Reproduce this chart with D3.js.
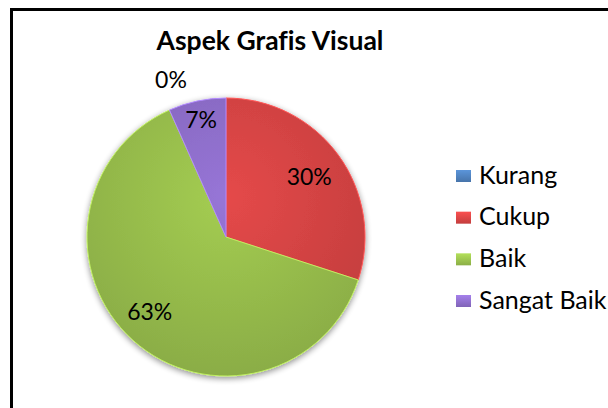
<!DOCTYPE html>
<html>
<head>
<meta charset="utf-8">
<script src="https://cdn.jsdelivr.net/npm/d3@7"></script>
<style>
	html, body { margin: 0; padding: 0; background: #fff; overflow: hidden; }
	svg { display: block; }
	text { font-family: Lato, "Open Sans", sans-serif; fill: #000; font-variant-ligatures: none; }
</style>
</head>
<body>
<div id="chart"></div>
<script>
// data
const categories = ['Kurang', 'Cukup', 'Baik', 'Sangat Baik'];
const counts = [0, 9, 19, 2];
const colors = ['#4f81bd', '#d94545', '#9bc24e', '#8f6fcc'];
const title = 'Aspek Grafis Visual';

const width = 608;
const height = 408;

const svg = d3.select('#chart')
	.append('svg')
	.attr('width', width)
	.attr('height', height);

svg.append('rect')
	.attr('width', width)
	.attr('height', height)
	.attr('fill', '#fff');

// frame: only the left and top edges are inside the picture
svg.append('path')
	.attr('d', `M11.5,${height} V9.5 H${width}`)
	.attr('fill', 'none')
	.attr('stroke', '#000')
	.attr('stroke-width', 3);

const defs = svg.append('defs');

// soft shadow
const shadow = defs.append('filter')
	.attr('id', 'shadow')
	.attr('x', '-20%').attr('y', '-20%')
	.attr('width', '140%').attr('height', '140%');
shadow.append('feGaussianBlur').attr('in', 'SourceAlpha').attr('stdDeviation', 3);
shadow.append('feOffset').attr('dx', 0).attr('dy', 2).attr('result', 'blur');
shadow.append('feComponentTransfer').append('feFuncA').attr('type', 'linear').attr('slope', 0.45);
const merge = shadow.append('feMerge');
merge.append('feMergeNode');
merge.append('feMergeNode').attr('in', 'SourceGraphic');

// shaded slice fills
colors.forEach((c, i) => {
	const g = defs.append('radialGradient')
		.attr('id', 'grad' + i)
		.attr('gradientUnits', 'userSpaceOnUse')
		.attr('cx', 0).attr('cy', -40)
		.attr('r', 190);
	g.append('stop').attr('offset', '0%').attr('stop-color', d3.color(c).brighter(0.15));
	g.append('stop').attr('offset', '100%').attr('stop-color', d3.color(c).darker(0.35));

	const lg = defs.append('linearGradient')
		.attr('id', 'legend' + i)
		.attr('x1', 0).attr('y1', 0).attr('x2', 0).attr('y2', 1);
	lg.append('stop').attr('offset', '0%').attr('stop-color', d3.color(c).brighter(0.4));
	lg.append('stop').attr('offset', '100%').attr('stop-color', d3.color(c).darker(0.3));
});

// title
svg.append('text')
	.attr('x', 270)
	.attr('y', 50)
	.attr('text-anchor', 'middle')
	.style('font-size', '26.5px')
	.style('font-weight', 'bold')
	.text(title);

const cx = 226, cy = 237, radius = 139;

const pie = d3.pie()
	.value(d => d)
	.sort(null);

const arcs = pie(counts);
const total = d3.sum(counts);

const arc = d3.arc()
	.innerRadius(0)
	.outerRadius(radius);

const g = svg.append('g')
	.attr('transform', `translate(${cx},${cy})`);

g.append('g')
	.attr('filter', 'url(#shadow)')
	.selectAll('path')
	.data(arcs)
	.enter()
	.append('path')
	.attr('d', arc)
	.attr('fill', (d, i) => `url(#grad${i})`)
	.attr('stroke', (d, i) => d3.color(colors[i]).brighter(0.6))
	.attr('stroke-width', 1);

// data labels
const fmt = d3.format('.0%');
g.selectAll('text.lbl')
	.data(arcs)
	.enter()
	.append('text')
	.attr('class', 'lbl')
	.attr('text-anchor', 'middle')
	.attr('dy', '0.35em')
	.style('font-size', '23px')
	.attr('transform', (d, i) => {
		const share = d.data / total;
		let r = share < 0.1 ? radius * 0.86 : (share > 0.5 ? radius * 0.77 : radius * 0.74);
		let dx = 0;
		if (share === 0) { r = radius * 1.13; dx = -55; }
		const a = (d.startAngle + d.endAngle) / 2 + (share > 0.5 ? 0.06 : 0);
		return `translate(${Math.sin(a) * r + dx},${-Math.cos(a) * r})`;
	})
	.text(d => fmt(d.data / total));

// legend
const legend = svg.append('g')
	.attr('transform', 'translate(456,0)');

const ly = d3.scalePoint()
	.domain(categories)
	.range([175, 300]);

const item = legend.selectAll('g')
	.data(categories)
	.enter()
	.append('g')
	.attr('transform', d => `translate(0,${ly(d)})`);

item.append('rect')
	.attr('x', 0)
	.attr('y', -5)
	.attr('width', 15)
	.attr('height', 12)
	.attr('fill', (d, i) => `url(#legend${i})`);

item.append('text')
	.attr('x', 23)
	.attr('y', 0)
	.attr('dy', '0.35em')
	.style('font-size', '25px')
	.text(d => d);
</script>
</body>
</html>
